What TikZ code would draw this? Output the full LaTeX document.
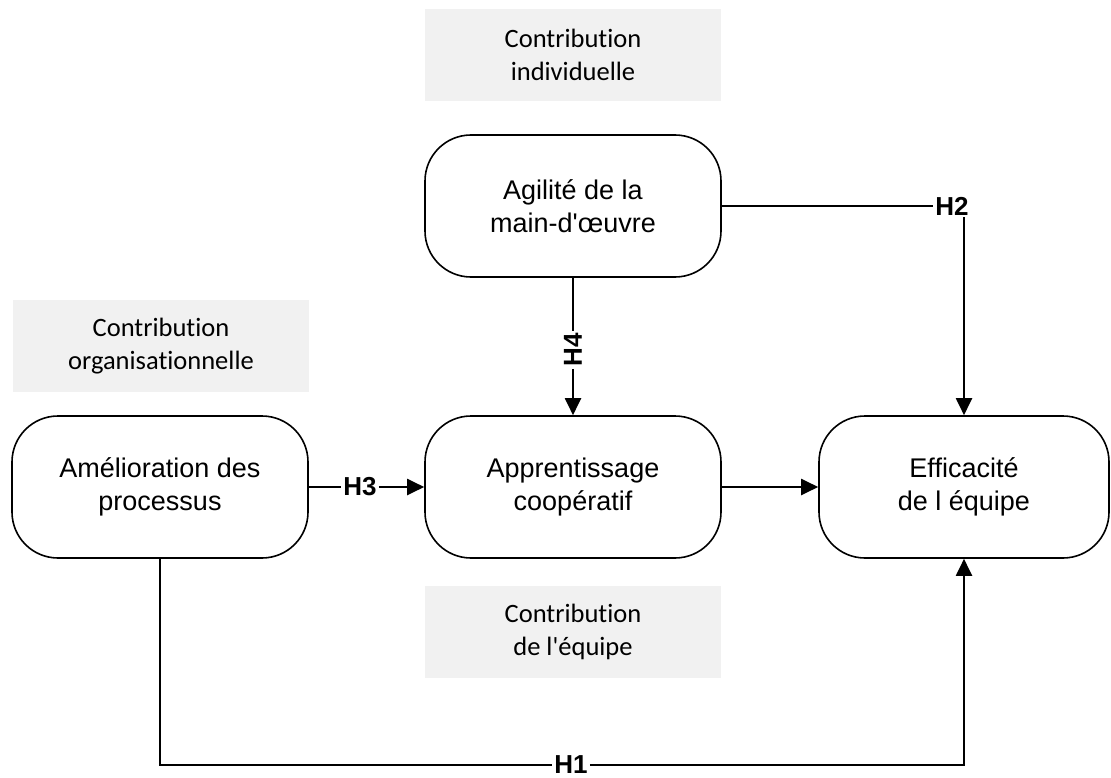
\documentclass[tikz,border=0pt]{standalone}
\usepackage{fontspec}
\setmainfont{Liberation Sans}
\newfontfamily\calfont{Carlito}[Ligatures={NoCommon}]
\usetikzlibrary{arrows.meta}
\definecolor{paleGray}{RGB}{241,241,241}
\tikzset{
  rbox/.style={draw=black, line width=1.6pt, rounded corners=46pt, fill=white,
    minimum width=296pt, minimum height=142pt, inner sep=0pt, align=center,
    font=\fontsize{27}{33}\selectfont},
  graybox/.style={fill=paleGray, minimum width=296pt, minimum height=92pt,
    inner sep=0pt, align=center, font=\calfont\fontsize{26.5}{33}\selectfont},
  hlabel/.style={font=\bfseries\fontsize{26}{30}\selectfont, inner sep=2pt},
  conn/.style={line width=2pt},
  arr/.style={conn, -{Triangle[length=17pt, width=16pt]}}
}
\begin{document}
\begin{tikzpicture}[x=1pt, y=-1pt]
\useasboundingbox (0,0) rectangle (1111,778);

% category labels
\node[graybox] (gInd) at (573,55) {Contribution\\individuelle};
\node[graybox] (gOrg) at (161,346) {Contribution\\organisationnelle};
\node[graybox] (gEq)  at (573,631.5) {Contribution\\de l\textquotesingle équipe};

% constructs
\node[rbox] (agil)  at (573,206) {Agilité de la\\main-d\textquotesingle œuvre};
\node[rbox] (amel)  at (160,487) {Amélioration des\\processus};
\node[rbox] (appr)  at (573,487) {Apprentissage\\coopératif};
\node[rbox, minimum width=290pt] (effic) at (964,487) {Efficacité\\de l équipe};

% hypothesis labels
\node[hlabel] (h2) at (952,206) {H2};
\node[hlabel, rotate=90] (h4) at (573,350) {H4};
\node[hlabel] (h3) at (360,487) {H3};
\node[hlabel] (h1) at (571,765) {H1};

% H2
\draw[conn] (agil.east) -- (h2.west);
\draw[arr] (h2.south -| effic.north) -- (effic.north);
% H4
\draw[conn] (agil.south) -- (h4.east);
\draw[arr] (h4.west) -- (appr.north);
% H3
\draw[conn] (amel.east) -- (h3.west);
\draw[arr] (h3.east) -- (appr.west);
% mediation path
\draw[arr] (appr.east) -- (effic.west);
% H1
\draw[conn] (amel.south) |- (h1.west);
\draw[arr] (h1.east) -| (effic.south);
\end{tikzpicture}
\end{document}
